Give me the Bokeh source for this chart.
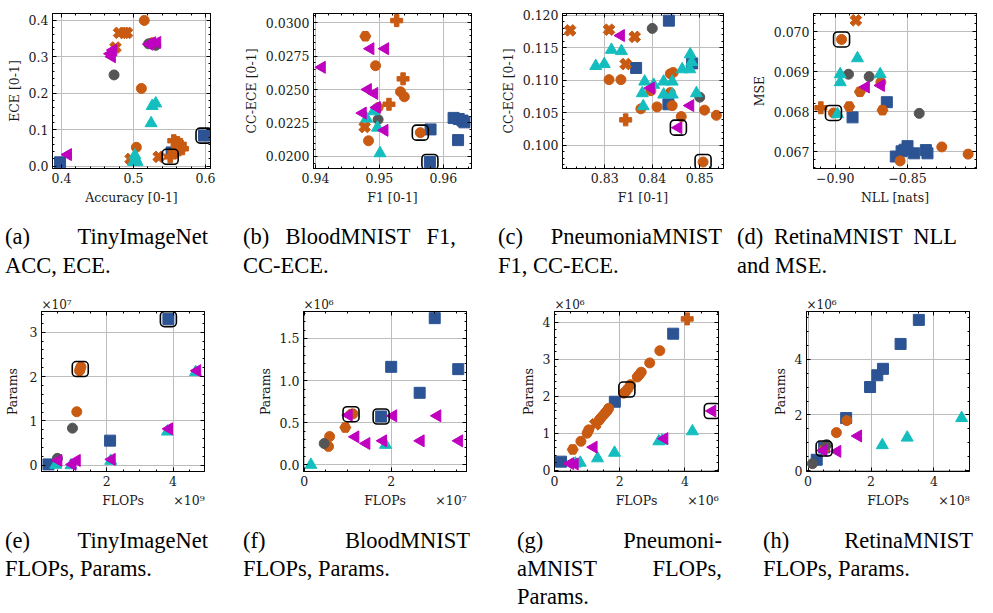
import numpy as np
from bokeh.plotting import figure
from bokeh.models import (ColumnDataSource, FixedTicker, LinearAxis, CustomJSTickFormatter,
                          Title, Range1d, Div)
from bokeh.layouts import column, row
from bokeh.embed import file_html
from bokeh.resources import INLINE

BLUE = "#2C5494"
ORANGE = "#C95A12"
GRAY = "#555555"
CYAN = "#14BEBE"
MAGENTA = "#BF00BF"
AXFONT = "DejaVu Serif"
AXSIZE = "12.5px"
EXPSIZE = "12px"

# ---------------- data ----------------
# (a) TinyImageNet: accuracy vs ECE
a_blue_x = [0.398, 0.553, 0.598]
a_blue_y = [0.011, 0.038, 0.084]
a_orange_x = [0.515, 0.480, 0.487, 0.491, 0.475, 0.526, 0.511, 0.504, 0.496, 0.535, 0.551, 0.556, 0.561, 0.565, 0.568, 0.563, 0.559, 0.557]
a_orange_y = [0.399, 0.365, 0.365, 0.365, 0.325, 0.338, 0.213, 0.052, 0.020, 0.026, 0.026, 0.070, 0.065, 0.060, 0.048, 0.045, 0.055, 0.035]
a_orange_m = ["o", "X", "X", "X", "X", "o", "o", "o", "X", "X", "P", "P", "P", "P", "P", "P", "o", "o"]
a_gray_x = [0.473, 0.521, 0.531]
a_gray_y = [0.250, 0.335, 0.331]
a_cyan_x = [0.526, 0.531, 0.5245, 0.502, 0.500, 0.505, 0.503]
a_cyan_y = [0.165, 0.172, 0.118, 0.030, 0.012, 0.012, 0.020]
a_magenta_x = [0.409, 0.472, 0.468, 0.470, 0.526, 0.533, 0.522]
a_magenta_y = [0.032, 0.318, 0.308, 0.300, 0.338, 0.339, 0.334]
a_hl_x = [0.551, 0.598]
a_hl_y = [0.026, 0.084]

# (b) BloodMNIST: F1 vs CC-ECE
b_blue_x = [0.9580, 0.9579, 0.9616, 0.9624, 0.9630, 0.9633, 0.9623]
b_blue_y = [0.02202, 0.01959, 0.02288, 0.02280, 0.02268, 0.02255, 0.02122]
b_orange_x = [0.9527, 0.9478, 0.9494, 0.9537, 0.9533, 0.9539, 0.9515, 0.9498, 0.9477, 0.9483, 0.9564]
b_orange_y = [0.03015, 0.02898, 0.02678, 0.02580, 0.02483, 0.02446, 0.02390, 0.02366, 0.02220, 0.02117, 0.02178]
b_orange_m = ["P", "p", "o", "P", "o", "o", "P", "o", "X", "o", "o"]
b_gray_x = [0.9498]
b_gray_y = [0.02276]
b_cyan_x = [0.9491, 0.9480, 0.9497, 0.9501]
b_cyan_y = [0.02337, 0.02283, 0.02215, 0.02024]
b_magenta_x = [0.9486, 0.9509, 0.9410, 0.9482, 0.9492, 0.9496, 0.9474, 0.9508]
b_magenta_y = [0.02805, 0.02805, 0.02666, 0.02500, 0.02471, 0.02366, 0.02324, 0.02195]
b_hl_x = [0.9564, 0.9579]
b_hl_y = [0.02178, 0.01959]

# (c) PneumoniaMNIST: F1 vs CC-ECE
c_blue_x = [0.8435, 0.8366, 0.8484, 0.8434]
c_blue_y = [0.1192, 0.1119, 0.1126, 0.1063]
c_orange_x = [0.8227, 0.8309, 0.8363, 0.8344, 0.8309, 0.8334, 0.8438, 0.8444, 0.8397, 0.8438, 0.8376, 0.8410, 0.8442, 0.8461, 0.8510, 0.8535, 0.8507, 0.8344]
c_orange_y = [0.1177, 0.1178, 0.1167, 0.1125, 0.1101, 0.1101, 0.1110, 0.1112, 0.1084, 0.1081, 0.1056, 0.1059, 0.1061, 0.1044, 0.1054, 0.1046, 0.0974, 0.1039]
c_orange_m = ["X", "X", "X", "X", "o", "o", "o", "o", "o", "o", "o", "o", "o", "o", "o", "o", "o", "P"]
c_gray_x = [0.8400, 0.8500]
c_gray_y = [0.1180, 0.1074]
c_cyan_x = [0.8314, 0.8335, 0.8281, 0.8299, 0.8480, 0.8479, 0.8463, 0.8384, 0.8403, 0.8424, 0.8442, 0.8379, 0.8424, 0.8442, 0.8381, 0.8493, 0.8483]
c_cyan_y = [0.1147, 0.1145, 0.1122, 0.1125, 0.1140, 0.1117, 0.1117, 0.1098, 0.1093, 0.1098, 0.1098, 0.1080, 0.1078, 0.1078, 0.1060, 0.1080, 0.1128]
c_magenta_x = [0.8334, 0.8397, 0.8480, 0.8455]
c_magenta_y = [0.1169, 0.1088, 0.1061, 0.1027]
c_hl_x = [0.8455, 0.8507]
c_hl_y = [0.1027, 0.0974]

# (d) RetinaMNIST: NLL vs MSE
d_blue_x = [-0.8643, -0.8880, -0.8581, -0.8541, -0.8500, -0.8454, -0.8373, -0.8362, -0.8520]
d_blue_y = [0.06824, 0.06786, 0.06688, 0.06701, 0.06714, 0.06696, 0.06704, 0.06696, 0.06705]
d_orange_x = [-0.8857, -0.8956, -0.8684, -0.8829, -0.8903, -0.8673, -0.9099, -0.9012, -0.8551, -0.8263, -0.8081]
d_orange_y = [0.07029, 0.06981, 0.06874, 0.06850, 0.06813, 0.06804, 0.06810, 0.06797, 0.06677, 0.06712, 0.06694]
d_orange_m = ["X", "o", "o", "p", "p", "p", "P", "o", "o", "o", "o"]
d_gray_x = [-0.8908, -0.8765, -0.8419]
d_gray_y = [0.06894, 0.06888, 0.06796]
d_cyan_x = [-0.8846, -0.8965, -0.8965, -0.8689, -0.8984]
d_cyan_y = [0.06934, 0.06894, 0.06874, 0.06894, 0.06794]
d_magenta_x = [-0.8788, -0.8684]
d_magenta_y = [0.06862, 0.06866]
d_hl_x = [-0.8956, -0.9012]
d_hl_y = [0.06981, 0.06797]

# (e) TinyImageNet: FLOPs (x1e9) vs Params (x1e7)
e_blue_x = [0.24, 2.10, 3.86]
e_blue_y = [0.02, 0.556, 3.296]
e_orange_x = [1.095, 1.18, 1.22, 1.196]
e_orange_y = [1.207, 2.13, 2.22, 2.17]
e_orange_m = ["o", "o", "o", "o"]
e_gray_x = [0.965, 0.51]
e_gray_y = [0.837, 0.156]
e_cyan_x = [0.46, 0.92, 2.12, 3.83, 4.68]
e_cyan_y = [0.01, 0.0, 0.10, 0.76, 2.10]
e_magenta_x = [0.54, 0.965, 1.095, 2.15, 3.88, 4.73]
e_magenta_y = [0.11, 0.02, 0.11, 0.133, 0.822, 2.133]
e_hl_x = [3.86, 1.20]
e_hl_y = [3.296, 2.17]

# (f) BloodMNIST: FLOPs (x1e7) vs Params (x1e6)
f_blue_x = [3.0, 2.0, 3.54, 2.654, 1.769]
f_blue_y = [1.741, 1.163, 1.136, 0.855, 0.574]
f_orange_x = [1.077, 1.12, 0.946, 0.585, 0.56]
f_orange_y = [0.601, 0.605, 0.443, 0.336, 0.218]
f_orange_m = ["o", "o", "p", "o", "o"]
f_gray_x = [0.46]
f_gray_y = [0.253]
f_cyan_x = [0.154, 1.87]
f_cyan_y = [0.0, 0.237]
f_magenta_x = [1.023, 2.046, 3.06, 1.177, 1.43, 1.815, 2.677, 3.56]
f_magenta_y = [0.59, 0.582, 0.582, 0.332, 0.253, 0.285, 0.285, 0.285]
f_hl_x = [1.077, 1.769]
f_hl_y = [0.601, 0.574]

# (g) PneumoniaMNIST: FLOPs (x1e6) vs Params (x1e6)
g_blue_x = [3.64, 1.85, 0.20]
g_blue_y = [3.69, 1.85, 0.23]
g_orange_x = [4.07, 3.23, 2.92, 2.66, 2.60, 2.54, 2.33, 2.25, 2.18, 2.12, 1.66, 1.61, 1.56, 1.49, 1.41, 1.36, 1.25, 1.05, 1.00, 0.81, 0.56]
g_orange_y = [4.09, 3.23, 2.90, 2.65, 2.58, 2.52, 2.31, 2.20, 2.12, 2.08, 1.67, 1.60, 1.55, 1.48, 1.40, 1.34, 1.24, 1.09, 1.00, 0.78, 0.56]
g_orange_m = ["P", "o", "o", "o", "o", "o", "o", "o", "o", "o", "o", "o", "o", "o", "o", "o", "X", "o", "o", "o", "p"]
g_gray_x = []
g_gray_y = []
g_cyan_x = [4.23, 3.20, 3.30, 1.84, 1.32, 0.79, 0.64]
g_cyan_y = [1.05, 0.78, 0.80, 0.47, 0.32, 0.20, 0.178]
g_magenta_x = [4.84, 3.37, 1.20, 0.48, 0.62]
g_magenta_y = [1.60, 0.853, 0.622, 0.178, 0.17]
g_hl_x = [2.22, 4.84]
g_hl_y = [2.18, 1.60]

# (h) RetinaMNIST: FLOPs (x1e8) vs Params (x1e6)
h_blue_x = [3.52, 2.94, 2.38, 2.20, 1.97, 1.21, 0.275, 0.51]
h_blue_y = [5.40, 4.54, 3.65, 3.42, 3.00, 1.89, 0.40, 0.84]
h_orange_x = [1.23, 0.90, 0.51]
h_orange_y = [1.80, 1.37, 0.78]
h_orange_m = ["o", "o", "o"]
h_gray_x = [0.14, 0.59]
h_gray_y = [0.26, 0.94]
h_cyan_x = [4.88, 3.15, 2.36]
h_cyan_y = [1.89, 1.19, 0.92]
h_magenta_x = [1.59, 0.93, 0.49]
h_magenta_y = [1.25, 0.70, 0.73]
h_hl_x = [0.51]
h_hl_y = [0.80]

# tick values
a_xticks = [0.4, 0.5, 0.6]; a_yticks = [0.0, 0.1, 0.2, 0.3, 0.4]
b_xticks = [0.94, 0.95, 0.96]; b_yticks = [0.02, 0.0225, 0.025, 0.0275, 0.03]
c_xticks = [0.83, 0.84, 0.85]; c_yticks = [0.10, 0.105, 0.11, 0.115, 0.12]
d_xticks = [-0.90, -0.85]; d_yticks = [0.067, 0.068, 0.069, 0.070]
e_xticks = [0, 2, 4]; e_yticks = [0, 1, 2, 3]
f_xticks = [0, 2]; f_yticks = [0.0, 0.5, 1.0, 1.5]
g_xticks = [0, 2, 4]; g_yticks = [0, 1, 2, 3, 4]
h_xticks = [0, 2, 4]; h_yticks = [0, 2, 4]

captions_top = [
    [["(a)", "TinyImageNet"], ["ACC,", "ECE."]],
    [["(b)", "BloodMNIST", "F1,"], ["CC-ECE."]],
    [["(c)", "PneumoniaMNIST"], ["F1,", "CC-ECE."]],
    [["(d)", "RetinaMNIST", "NLL"], ["and", "MSE."]],
]
captions_bottom = [
    [["(e)", "TinyImageNet"], ["FLOPs,", "Params."]],
    [["(f)", "BloodMNIST"], ["FLOPs,", "Params."]],
    [["(g)", "Pneumoni-"], ["aMNIST", "FLOPs,"], ["Params."]],
    [["(h)", "RetinaMNIST"], ["FLOPs,", "Params."]],
]


def minor(lo, hi, step):
    return np.round(np.arange(lo, hi + step / 2, step), 7).tolist()


def fmt(d):
    return CustomJSTickFormatter(args=dict(d=d), code="return tick.toFixed(d).replace('-', '\\u2212');")


def set_font(ax):
    ax.major_label_text_font = AXFONT
    ax.major_label_text_font_size = AXSIZE
    ax.major_label_text_color = "#1a1a1a"


def style_axis(ax, ticks, mticks, d, label, lab_standoff=4):
    ax.ticker = FixedTicker(ticks=ticks, minor_ticks=mticks)
    ax.formatter = fmt(d)
    ax.major_tick_in = 4
    ax.major_tick_out = 0
    ax.minor_tick_in = 2
    ax.minor_tick_out = 0
    ax.axis_line_color = "black"
    ax.major_tick_line_color = "black"
    ax.minor_tick_line_color = "black"
    set_font(ax)
    ax.major_label_standoff = 4
    ax.axis_label = label
    ax.axis_label_text_font = AXFONT
    ax.axis_label_text_font_size = AXSIZE
    ax.axis_label_text_font_style = "normal"
    ax.axis_label_text_color = "#1a1a1a"
    ax.axis_label_standoff = lab_standoff


def blank_axis(ticks, mticks):
    ax = LinearAxis(ticker=FixedTicker(ticks=ticks, minor_ticks=mticks),
                    formatter=CustomJSTickFormatter(code="return '';"))
    ax.major_tick_in = 4
    ax.major_tick_out = 0
    ax.minor_tick_in = 2
    ax.minor_tick_out = 0
    ax.major_label_text_font_size = "0px"
    ax.major_label_standoff = 0
    ax.axis_line_color = "black"
    return ax


def flops_axis(xr, frame_w, exp_text):
    # second row under the x tick labels: "FLOPs" centred, multiplier flush right
    span = xr[1] - xr[0]
    exp_half_px = 15.5
    pos = [(xr[0] + xr[1]) / 2, xr[1] - exp_half_px * span / frame_w]
    ax = LinearAxis(ticker=FixedTicker(ticks=pos, minor_ticks=[]),
                    formatter=CustomJSTickFormatter(args=dict(labels=["FLOPs", exp_text]),
                                                    code="return labels[index];"))
    ax.axis_line_color = None
    ax.major_tick_line_color = None
    ax.minor_tick_line_color = None
    ax.major_tick_in = 0
    ax.major_tick_out = 0
    ax.minor_tick_in = 0
    ax.minor_tick_out = 0
    ax.major_label_standoff = 4
    set_font(ax)
    return ax


MK = {"o": ("circle", 0.0, 10), "P": ("plus", 0.0, 12), "X": ("plus", np.pi / 4, 12), "p": ("hex", 0.0, 11)}


def panel(w, h, borders, xr, yr, xt, xm, yt, ym, xd, yd, xl, yl, series, hl,
          exp_top=None, exp_bot=None, ylab_standoff=4):
    bl, br, bt, bb = borders
    p = figure(width=w, height=h, x_range=Range1d(*xr), y_range=Range1d(*yr), title=None,
               output_backend="svg", toolbar_location=None,
               min_border_left=bl, min_border_right=br, min_border_top=bt, min_border_bottom=bb)
    p.outline_line_color = "black"
    p.outline_line_width = 1
    p.outline_line_alpha = 1
    p.background_fill_color = "white"
    p.border_fill_color = "white"
    style_axis(p.xaxis[0], xt, xm, xd, xl)
    style_axis(p.yaxis[0], yt, ym, yd, yl, ylab_standoff)
    p.add_layout(blank_axis(xt, xm), "above")
    p.add_layout(blank_axis(yt, ym), "right")
    p.xgrid.ticker = FixedTicker(ticks=xt)
    p.ygrid.ticker = FixedTicker(ticks=yt)
    for g in (p.xgrid, p.ygrid):
        g.grid_line_color = "#bdbdbd"
        g.grid_line_width = 1

    bx, by, ox, oy, om, gx, gy, cx, cy, mx, my = series
    p.scatter(bx, by, marker="square", size=11, fill_color=BLUE, line_color=BLUE)
    src = ColumnDataSource(dict(x=ox, y=oy, m=[MK[k][0] for k in om],
                                a=[MK[k][1] for k in om], s=[MK[k][2] for k in om]))
    p.scatter("x", "y", source=src, marker="m", angle="a", size="s", fill_color=ORANGE, line_color=ORANGE)
    if gx:
        p.scatter(gx, gy, marker="circle", size=10, fill_color=GRAY, line_color=GRAY)
    p.scatter(cx, cy, marker="triangle", size=12, fill_color=CYAN, line_color=CYAN)
    p.scatter(mx, my, marker="triangle", angle=np.pi / 2, size=12, fill_color=MAGENTA, line_color=MAGENTA)
    r = p.rect(hl[0], hl[1], width=16, height=15, width_units="screen", height_units="screen",
               fill_alpha=0, line_color="black", line_width=1.6)
    try:
        r.glyph.border_radius = 4
    except Exception:
        pass
    if exp_top:
        t = Title(text=exp_top, align="left", vertical_align="bottom", offset=0, standoff=0,
                  text_font=AXFONT, text_font_size=EXPSIZE, text_font_style="normal",
                  text_color="#1a1a1a")
        p.add_layout(t, "above")
    if exp_bot:
        p.add_layout(flops_axis(xr, w - bl - br, exp_bot), "below")
    return p


pa = panel(240, 210, (52, 30, 13, 42), (0.3875, 0.607), (-0.006, 0.418),
           a_xticks, minor(0.38, 0.62, 0.02), a_yticks, minor(-0.02, 0.44, 0.02), 1, 1,
           "Accuracy [0-1]", "ECE [0-1]",
           (a_blue_x, a_blue_y, a_orange_x, a_orange_y, a_orange_m, a_gray_x, a_gray_y,
            a_cyan_x, a_cyan_y, a_magenta_x, a_magenta_y), (a_hl_x, a_hl_y))
pb = panel(250, 210, (73, 19, 10, 42), (0.9397, 0.9644), (0.0191, 0.03068),
           b_xticks, minor(0.938, 0.966, 0.002), b_yticks, minor(0.019, 0.031, 0.0005), 2, 4,
           "F1 [0-1]", "CC-ECE [0-1]",
           (b_blue_x, b_blue_y, b_orange_x, b_orange_y, b_orange_m, b_gray_x, b_gray_y,
            b_cyan_x, b_cyan_y, b_magenta_x, b_magenta_y), (b_hl_x, b_hl_y))
pc = panel(250, 210, (72, 17, 7, 42), (0.8211, 0.855), (0.0964, 0.1203),
           c_xticks, minor(0.82, 0.856, 0.002), c_yticks, minor(0.096, 0.121, 0.001), 2, 3,
           "F1 [0-1]", "CC-ECE [0-1]",
           (c_blue_x, c_blue_y, c_orange_x, c_orange_y, c_orange_m, c_gray_x, c_gray_y,
            c_cyan_x, c_cyan_y, c_magenta_x, c_magenta_y), (c_hl_x, c_hl_y))
pd_ = panel(250, 210, (73, 14, 7, 42), (-0.915, -0.8023), (0.06658, 0.07046),
            d_xticks, minor(-0.92, -0.80, 0.01), d_yticks, minor(0.0664, 0.0706, 0.0002), 2, 3,
            "NLL [nats]", "MSE",
            (d_blue_x, d_blue_y, d_orange_x, d_orange_y, d_orange_m, d_gray_x, d_gray_y,
             d_cyan_x, d_cyan_y, d_magenta_x, d_magenta_y), (d_hl_x, d_hl_y))

pe = panel(250, 226, (41, 46, 24, 39), (0.03, 4.95), (-0.14, 3.467),
           e_xticks, minor(0, 5, 0.5), e_yticks, minor(-0.2, 3.4, 0.2), 0, 0,
           None, "Params",
           (e_blue_x, e_blue_y, e_orange_x, e_orange_y, e_orange_m, e_gray_x, e_gray_y,
            e_cyan_x, e_cyan_y, e_magenta_x, e_magenta_y), (e_hl_x, e_hl_y), "×10⁷", "×10⁹", 7)
pf = panel(250, 226, (53, 34, 27, 39), (-0.015, 3.73), (-0.079, 1.82),
           f_xticks, minor(0, 3.5, 0.5), f_yticks, minor(-0.1, 1.8, 0.1), 0, 1,
           None, "Params",
           (f_blue_x, f_blue_y, f_orange_x, f_orange_y, f_orange_m, f_gray_x, f_gray_y,
            f_cyan_x, f_cyan_y, f_magenta_x, f_magenta_y), (f_hl_x, f_hl_y), "×10⁶", "×10⁷")
pg = panel(250, 226, (54, 32, 24, 39), (0.0, 5.03), (-0.036, 4.29),
           g_xticks, minor(0, 5, 0.5), g_yticks, minor(0, 4.2, 0.2), 0, 0,
           None, "Params",
           (g_blue_x, g_blue_y, g_orange_x, g_orange_y, g_orange_m, g_gray_x, g_gray_y,
            g_cyan_x, g_cyan_y, g_magenta_x, g_magenta_y), (g_hl_x, g_hl_y), "×10⁶", "×10⁶")
ph = panel(240, 226, (56, 21, 24, 39), (-0.05, 5.13), (-0.02, 5.7),
           h_xticks, minor(0, 5, 0.5), h_yticks, minor(0, 5.5, 0.5), 0, 0,
           None, "Params",
           (h_blue_x, h_blue_y, h_orange_x, h_orange_y, h_orange_m, h_gray_x, h_gray_y,
            h_cyan_x, h_cyan_y, h_magenta_x, h_magenta_y), (h_hl_x, h_hl_y), "×10⁶", "×10⁸")


def caption_div(caps, boxes, top, lh, height):
    parts = []
    for lines, (left, width) in zip(caps, boxes):
        html = []
        for i, words in enumerate(lines):
            if i < len(lines) - 1:
                spans = "".join(f"<span>{w}</span>" for w in words)
                html.append(f'<div style="display:flex;justify-content:space-between;white-space:nowrap;">{spans}</div>')
            else:
                html.append(f'<div style="white-space:nowrap;">{" ".join(words)}</div>')
        parts.append(f'<div style="position:absolute;left:{left}px;top:{top}px;width:{width}px;">' + "".join(html) + "</div>")
    inner = ("<div style=\"position:relative;width:990px;height:%dpx;font-family:'Liberation Serif',serif;"
             "font-size:22.5px;line-height:%spx;color:#000;\">" % (height, lh)) + "".join(parts) + "</div>"
    return Div(text=inner, width=990, height=height, margin=(0, 0, 0, 0))


cap1 = caption_div(captions_top, [(5, 203), (243, 213), (498, 224), (737, 220)], 13, 28.5, 74)
cap2 = caption_div(captions_bottom, [(5, 203), (243, 227), (517, 205), (763, 210)], 17, 28, 101)

layout = column(row(pa, pb, pc, pd_), cap1, row(pe, pf, pg, ph), cap2)

with open("out.html", "w", encoding="utf-8") as fh:
    fh.write(file_html(layout, INLINE))
